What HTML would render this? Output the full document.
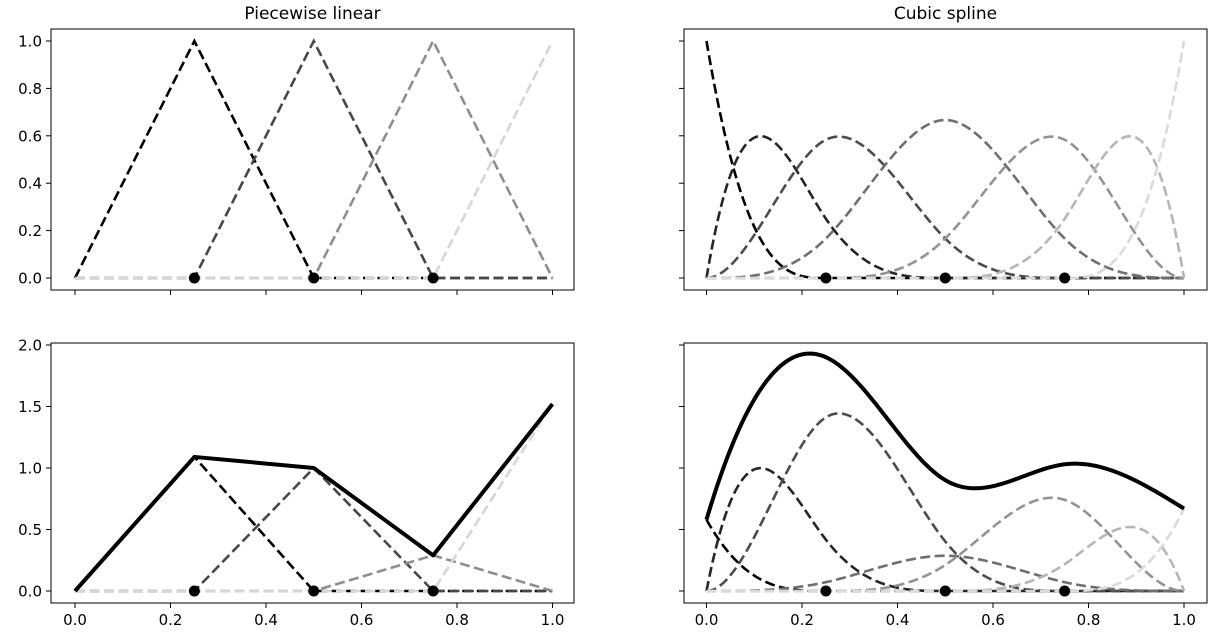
<!DOCTYPE html>
<html><head><meta charset="utf-8"><style>
body{margin:0;background:#fff;width:1214px;height:639px;overflow:hidden}
svg text{font-family:"DejaVu Sans","Liberation Sans",sans-serif;fill:#000}
</style></head><body>
<svg id="chart" width="1214" height="639" xmlns="http://www.w3.org/2000/svg"></svg>
<script>
const knots = [0.25, 0.5, 0.75];
const linCenters = [0.25, 0.5, 0.75, 1.0];
const linCoefs = [1.09, 1.0, 0.29, 1.52];
const cubicCoefs = [0.58, 1.67, 2.42, 0.43, 1.27, 0.87, 0.67];
const topTicks = [0.0, 0.2, 0.4, 0.6, 0.8, 1.0];
const bottomTicks = [0.0, 0.5, 1.0, 1.5, 2.0];
const xTicks = [0.0, 0.2, 0.4, 0.6, 0.8, 1.0];
const titles = ["Piecewise linear", "Cubic spline"];

const svg = document.getElementById('chart');
const NS = 'http://www.w3.org/2000/svg';
function el(tag, attrs, parent){const e=document.createElementNS(NS,tag);for(const k in attrs)e.setAttribute(k,attrs[k]);(parent||svg).appendChild(e);return e;}

const cols = [{l:51,r:574,x0:75,x1:552.5},{l:684,r:1207,x0:706.5,x1:1184}];
const rows = [{t:29,b:290,ymin:0,ymax:1,py0:278,py1:41,ticks:topTicks},
              {t:343,b:603,ymin:0,ymax:2,py0:591,py1:345,ticks:bottomTicks}];

function hat(c,x){const d=Math.abs(x-c)/0.25;return Math.max(0,1-d);}
const T=[0,0,0,0,0.25,0.5,0.75,1,1,1,1];
function bspl(i,k,x){
  if(k===0){ if(x>=T[i]&&x<T[i+1])return 1; if(x===1&&T[i]<1&&T[i+1]===1)return 1; return 0;}
  let a=0,b=0;
  if(T[i+k]>T[i])a=(x-T[i])/(T[i+k]-T[i])*bspl(i,k-1,x);
  if(T[i+k+1]>T[i+1])b=(T[i+k+1]-x)/(T[i+k+1]-T[i+1])*bspl(i+1,k-1,x);
  return a+b;
}
const linGray=['#000000','#474747','#8e8e8e','#d6d6d6'];
const cubGray=['#000000','#262626','#4c4c4c','#6f6f6f','#939393','#b6b6b6','#dadada'];
const xs=[];for(let i=0;i<=300;i++)xs.push(i/300);

for(let ri=0;ri<2;ri++)for(let ci=0;ci<2;ci++){
  const C=cols[ci],R=rows[ri];
  const g=el('g',{});
  
  
  const X=v=>C.x0+(C.x1-C.x0)*v;
  const Y=v=>R.py0+(R.py1-R.py0)*(v-R.ymin)/(R.ymax-R.ymin);
  const curves=[];
  if(ci===0){linCenters.forEach((c,j)=>curves.push({f:x=>hat(c,x)*(ri?linCoefs[j]:1),col:linGray[j]}));}
  else{for(let j=0;j<7;j++)curves.push({f:x=>bspl(j,3,x)*(ri?cubicCoefs[j]:1),col:cubGray[j]});}
  const sampleX = ci===0 ? [0,0.25,0.5,0.75,1] : xs;
  curves.forEach((cv,j)=>{
    const d=sampleX.map((x,i)=>(i?'L':'M')+X(x).toFixed(2)+','+Y(cv.f(x)).toFixed(2)).join('');
    const p=el('path',{d,fill:'none',stroke:cv.col,'stroke-width':2.6,'stroke-dasharray':'10,4.5'},g);
    
    
  });
  if(ri===1){
    const d=sampleX.map((x,i)=>{let s=0;curves.forEach(cv=>s+=cv.f(x));return (i?'L':'M')+X(x).toFixed(2)+','+Y(s).toFixed(2);}).join('');
    const p=el('path',{d,fill:'none',stroke:'#000','stroke-width':4,'stroke-linejoin':'round'},g);
    
    
  }
  knots.forEach(k=>{
    const c=el('circle',{cx:X(k),cy:Y(0),r:5.5,fill:'#000'},g);
    
    
  });
  const fr=el('rect',{x:C.l,y:R.t,width:C.r-C.l,height:R.b-R.t,fill:'none',stroke:'#000','stroke-width':1},g);
  
  
  xTicks.forEach(t=>{
    el('line',{x1:X(t),x2:X(t),y1:R.b,y2:R.b+5,stroke:'#000'},g);
    if(ri===1){const tx=el('text',{x:X(t),y:R.b+22,'text-anchor':'middle','font-size':15},g);tx.textContent=t.toFixed(1);
      }
  });
  R.ticks.forEach(t=>{
    el('line',{x1:C.l,x2:C.l-5,y1:Y(t),y2:Y(t),stroke:'#000'},g);
    if(ci===0){const tx=el('text',{x:C.l-9,y:Y(t)+5.5,'text-anchor':'end','font-size':15},g);tx.textContent=t.toFixed(1);
      }
  });
  if(ri===0){const tt=el('text',{x:(C.l+C.r)/2,y:19,'text-anchor':'middle','font-size':17},g);tt.textContent=titles[ci];
    }
}
</script>
</body></html>
